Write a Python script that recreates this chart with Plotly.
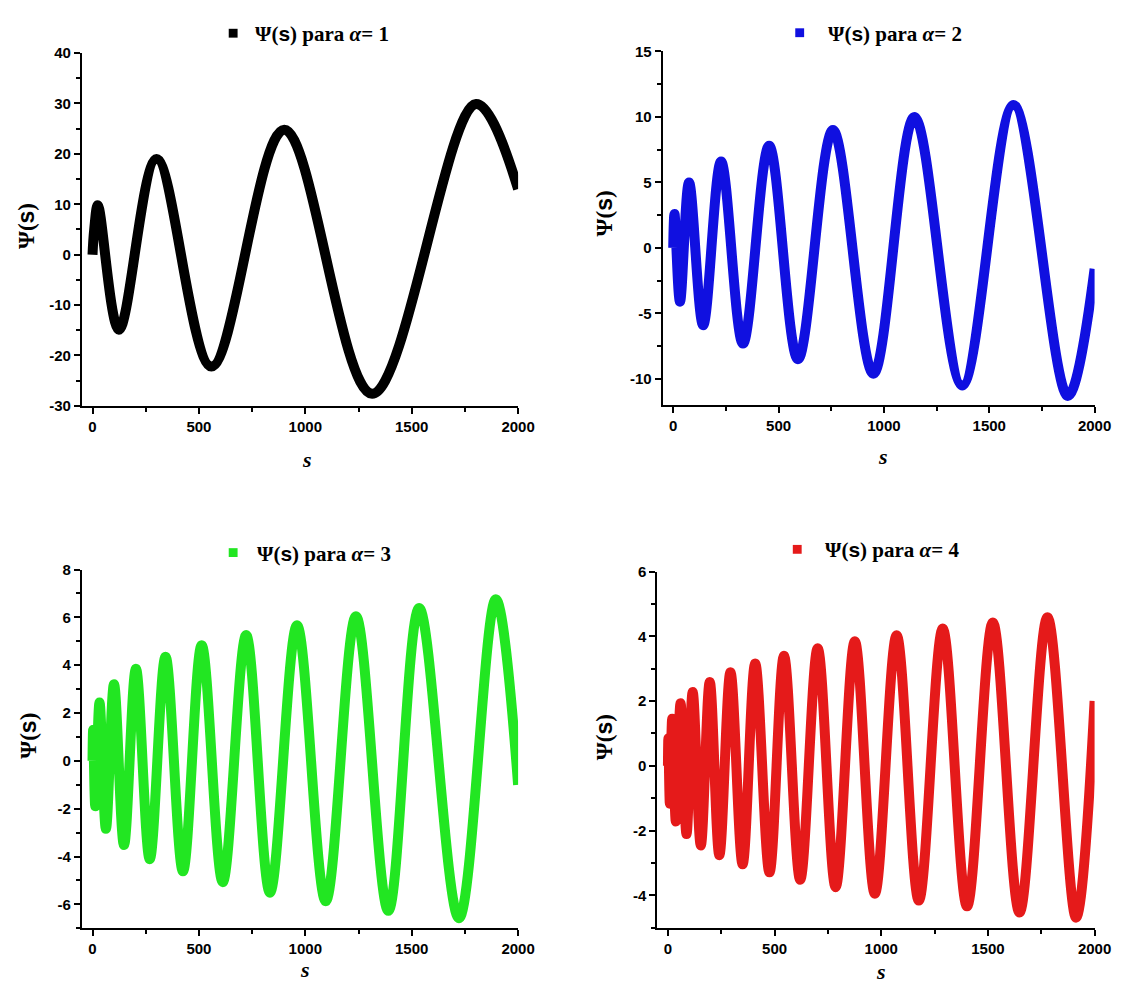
import plotly.graph_objects as go

# ---------------- data ----------------
s_a1 = [0, 8, 25, 124, 301, 559, 901, 1314, 1802, 2000]
psi_a1 = [0.0, 5.0, 9.8, -14.9, 19.0, -22.2, 24.8, -27.6, 29.9, 13.0]

s_a2 = [0, 6, 32, 75, 142, 227, 331, 455, 592, 758, 950, 1145, 1372, 1615, 1873, 2000]
psi_a2 = [0.0, 2.6, -4.1, 5.0, -5.9, 6.6, -7.3, 7.8, -8.5, 9.0, -9.6, 10.0, -10.5, 10.9, -11.3, -1.6]

s_a3 = [0, 3, 13, 33, 63, 101, 148, 204, 269, 343, 425, 513, 612, 722, 834, 961,
        1096, 1238, 1390, 1535, 1722, 1895, 2000]
psi_a3 = [0.0, 1.3, -1.9, 2.44, -2.84, 3.21, -3.52, 3.85, -4.11, 4.36, -4.62, 4.84,
          -5.07, 5.26, -5.51, 5.67, -5.87, 6.05, -6.27, 6.39, -6.58, 6.76, -1.0]

s_a4 = [0, 2, 9, 20, 37, 59, 87, 116, 154, 196, 241, 293, 350, 409, 476, 544, 620,
        702, 786, 876, 970, 1072, 1176, 1288, 1402, 1523, 1648, 1779, 1913, 2000]
psi_a4 = [0.0, 0.85, -1.17, 1.45, -1.72, 1.93, -2.11, 2.28, -2.46, 2.59, -2.76, 2.89,
          -3.04, 3.16, -3.29, 3.40, -3.52, 3.63, -3.75, 3.85, -3.95, 4.03, -4.16, 4.24,
          -4.34, 4.43, -4.53, 4.59, -4.69, 2.0]

alphas = ["1", "2", "3", "4"]
colors = ["#000000", "#1010e0", "#22e622", "#e51a1a"]
x_ticks = [0, 500, 1000, 1500, 2000]
y_tick_sets = [
    [-30, -20, -10, 0, 10, 20, 30, 40],
    [-10, -5, 0, 5, 10, 15],
    [-6, -4, -2, 0, 2, 4, 6, 8],
    [-4, -2, 0, 2, 4, 6],
]
y_ranges = [[-30, 40], [-12, 15], [-7, 8], [-5, 6]]

series = [(s_a1, psi_a1), (s_a2, psi_a2), (s_a3, psi_a3), (s_a4, psi_a4)]

# ---------------- layout (pixel geometry) ----------------
W, H = 1129, 984
boxes = [
    (75.0, 517.9, 36.7, 395.7),
    (664.7, 1103.2, 35.0, 395.0),
    (75.0, 517.9, 562.3, 927.3),
    (659.2, 1103.2, 564.3, 926.7),
]
title_sq = [(228.6, 16.5), (803.8, 16.0), (228.6, 545.0), (801.3, 541.7)]
title_txt_left = [249.0, 831.0, 250.8, 827.5]
ytitle_pos = [(19.0, 213.0), (605.0, 200.0), (20.0, 731.7), (605.0, 733.0)]
xtitle_pos = [(303.6, 450.0), (888.4, 447.0), (301.8, 969.0), (886.6, 971.0)]

fig = go.Figure()
axis_font = dict(family="Liberation Sans, Arial, sans-serif", size=15, color="black")
serif = "Liberation Serif, Times New Roman, serif"


def bold_labels(vals):
    return ["<b>%s</b>" % v for v in vals]


annotations = []
shapes = []
for i, ((sx, sy), col) in enumerate(zip(series, colors)):
    n = "" if i == 0 else str(i + 1)
    fig.add_trace(go.Scatter(
        x=sx, y=sy, mode="lines",
        line=dict(color=col, width=10, shape="spline", smoothing=1.0),
        xaxis="x" + n, yaxis="y" + n, showlegend=False, hoverinfo="skip"))
    l, r, t, b = boxes[i]
    common = dict(showline=True, linecolor="black", linewidth=2, ticks="outside",
                  ticklen=6, tickwidth=2, tickcolor="black", showgrid=False,
                  zeroline=False, tickfont=axis_font, mirror=False)
    yt = y_tick_sets[i]
    ystep = yt[1] - yt[0]
    fig.layout["xaxis" + n] = dict(
        domain=[l / W, r / W], range=[-50, 2000], anchor="y" + n,
        tickvals=x_ticks, ticktext=bold_labels(x_ticks),
        minor=dict(tickvals=[250, 750, 1250, 1750], ticklen=4, tickwidth=1.5,
                   tickcolor="black", ticks="outside", showgrid=False),
        **common)
    fig.layout["yaxis" + n] = dict(
        domain=[1 - b / H, 1 - t / H], range=y_ranges[i], anchor="x" + n,
        tickvals=yt, ticktext=bold_labels(yt),
        minor=dict(dtick=ystep / 2, tick0=0, ticklen=4, tickwidth=1.5,
                   tickcolor="black", ticks="outside", showgrid=False),
        **common)
    qx, qy = title_sq[i]
    shapes.append(dict(type="rect", xref="paper", yref="paper",
                       x0=(qx - 4.5) / W, x1=(qx + 4.5) / W,
                       y0=1 - (qy + 4.5) / H, y1=1 - (qy - 4.5) / H,
                       fillcolor=col, line=dict(width=0)))
    annotations.append(dict(
        xref="paper", yref="paper", x=title_txt_left[i] / W, y=1 - (qy + 1) / H,
        xanchor="left", yanchor="middle", showarrow=False,
        text=("<b>Ψ(<span style='font-family:Liberation Sans'>s</span>) para "
              "<i>α</i>= " + alphas[i] + "</b>"),
        font=dict(family=serif, size=21, color="black")))
    yx, yy = ytitle_pos[i]
    annotations.append(dict(
        xref="paper", yref="paper", x=yx / W, y=1 - yy / H, xanchor="center",
        yanchor="middle", showarrow=False, textangle=-90,
        text="<b>Ψ(<span style='font-family:Liberation Sans'>s</span>)</b>",
        font=dict(family=serif, size=23, color="black")))
    xx, xy = xtitle_pos[i]
    annotations.append(dict(
        xref="paper", yref="paper", x=xx / W, y=1 - xy / H, xanchor="center",
        yanchor="middle", showarrow=False, text="<b><i>s</i></b>",
        font=dict(family=serif, size=22, color="black")))

fig.update_layout(width=W, height=H, margin=dict(l=0, r=0, t=0, b=0),
                  paper_bgcolor="white", plot_bgcolor="white",
                  annotations=annotations, shapes=shapes, showlegend=False)
fig.write_html("out.html")
